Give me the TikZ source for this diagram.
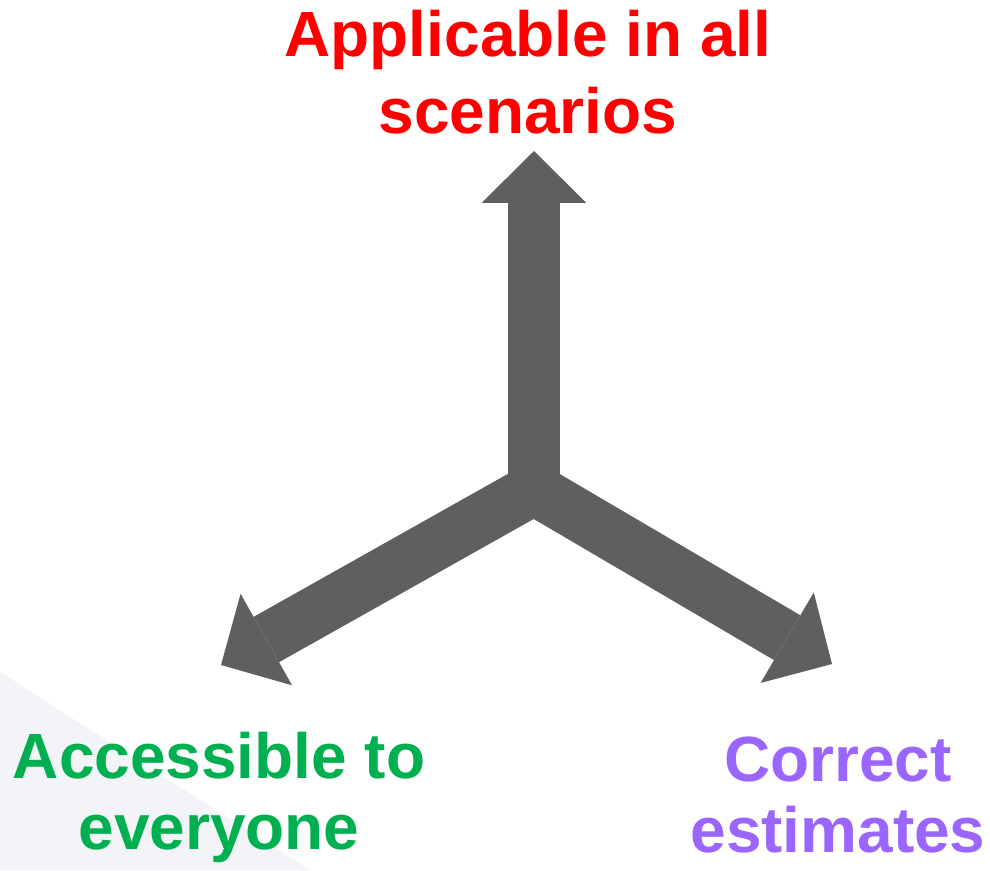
\documentclass[tikz,border=0pt]{standalone}
\usepackage{fontspec}
\setmainfont{Liberation Sans}
\usetikzlibrary{arrows.meta}
\definecolor{mArrow}{HTML}{5F5F5F}
\definecolor{mRed}{HTML}{FF0000}
\definecolor{mGreen}{HTML}{00B050}
\definecolor{mPurple}{HTML}{9A66FF}
\definecolor{mShade}{HTML}{F2F4F7}

\begin{document}
\begin{tikzpicture}[x=0.02cm,y=-0.02cm,
    arm/.style={draw=mArrow,line width=1.04cm,line join=miter},
    tip/.style={arrows={-Triangle[length=1.04cm,width=2.1cm,line width=0pt]}},
    both/.style={arrows={Triangle[length=1.04cm,width=2.1cm,line width=0pt]-Triangle[length=1.04cm,width=2.1cm,line width=0pt]}},
    goal/.style={align=center,anchor=base,inner sep=0pt,
      font=\fontsize{36.4pt}{40pt}\selectfont\bfseries}]
  \useasboundingbox (0,0) rectangle (990,870);
  \fill[mShade] (0,672) -- (310,870) -- (0,870) -- cycle;

  % the three directions
  \coordinate (hub) at (534,489);
  \coordinate (upTip) at (534,151);
  \coordinate (leftTip) at (221,665);
  \coordinate (rightTip) at (832,664);
  \draw[arm,both] (leftTip) -- (hub) -- (rightTip);
  \draw[arm,tip] (hub) -- (upTip);

  % labels (base = last line)
  \node[goal,mRed,font=\fontsize{36.4pt}{43.8pt}\selectfont\bfseries] (scen) at (528,133) {Applicable in all\\scenarios};
  \node[goal,mGreen] (access) at (219,849) {Accessible to\\everyone};
  \node[goal,mPurple] (correct) at (838,852) {Correct\\estimates};
\end{tikzpicture}
\end{document}
